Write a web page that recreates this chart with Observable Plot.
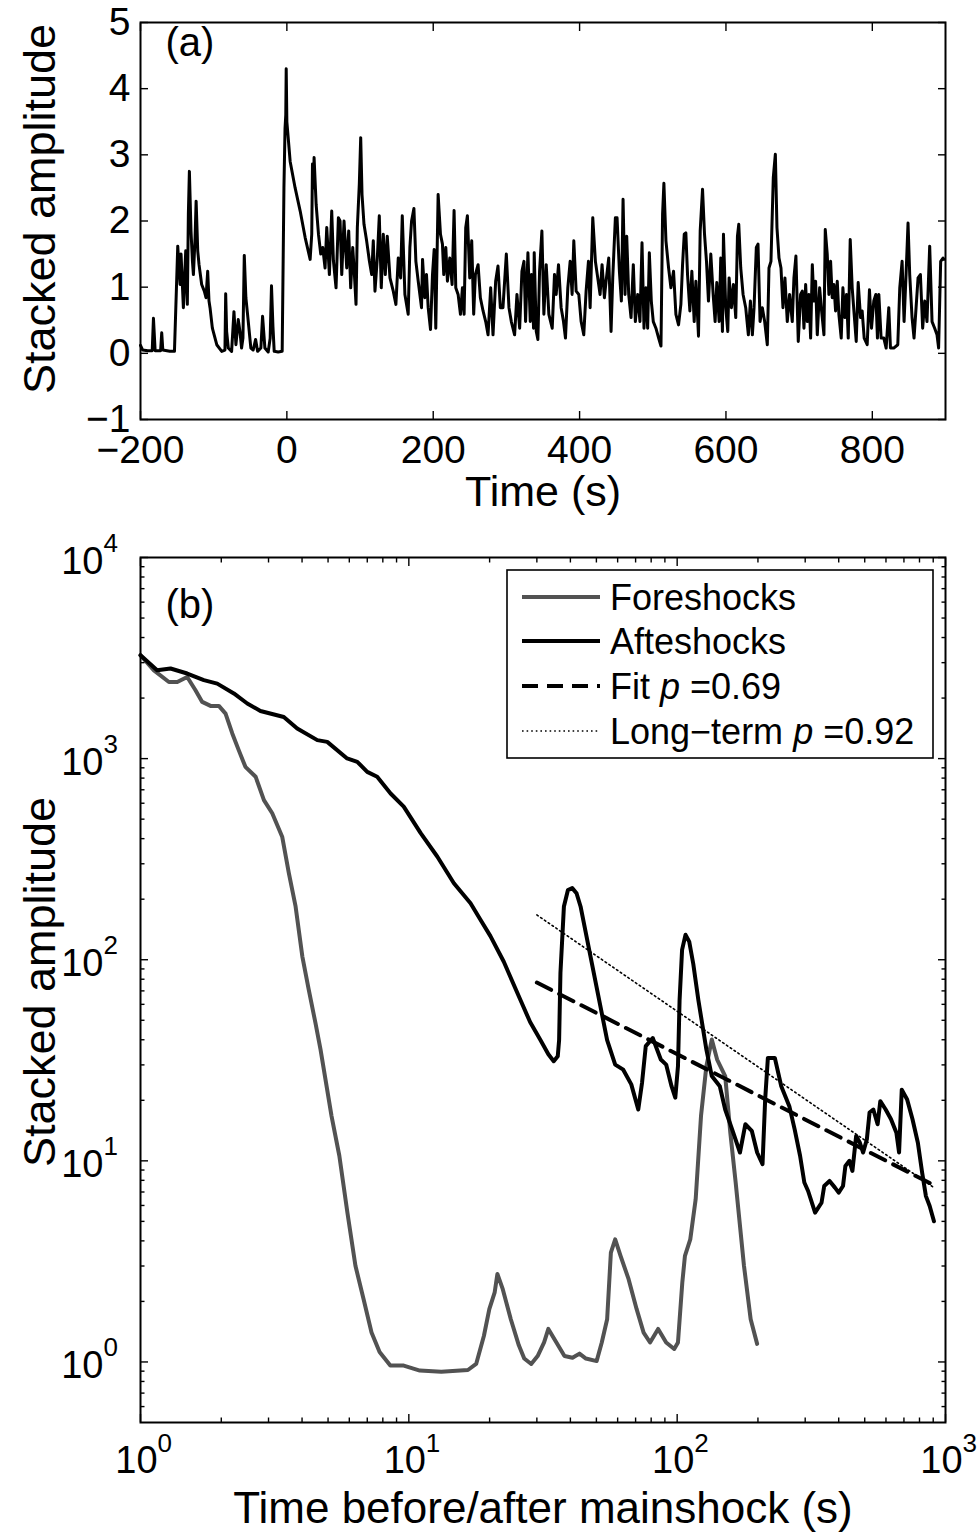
<!DOCTYPE html>
<html><head><meta charset="utf-8">
<script src="https://cdn.jsdelivr.net/npm/d3@7"></script>
<script src="https://cdn.jsdelivr.net/npm/@observablehq/plot@0.6"></script>
<style>
html,body{margin:0;padding:0;background:#fff;}
#wrap{position:relative;width:979px;height:1533px;overflow:hidden;}
#wrap svg{display:block;}
</style></head><body><div id="wrap"></div>
<script>
// ---------- Panel (a): stacked amplitude vs time ----------
const timeA = [-200,-197,-190,-184,-182.3,-180,-172.5,-171,-169.5,-160,-153.6,-149.1,-145.9,-144.6,-141.4,-138.2,-136,-134.6,-133.2,-131,-129,-127.7,-125.4,-124,-121.8,-120,-116.4,-112.8,-110.5,-108.2,-106.4,-105,-101.8,-95.8,-89,-84.6,-83.6,-82.3,-80,-75.5,-72.3,-69.6,-66.4,-64.1,-61.9,-60,-58.2,-56,-53.7,-49.2,-46,-42.7,-40,-35.5,-33.2,-30,-25.5,-22.8,-21,-19,-17.3,-11.8,-6.4,-4,-2.5,-1.5,-0.9,0,1.5,4.5,11.3,18.2,25,31.8,34,35,36.2,37.2,40,43.2,46.3,49,52.2,54.5,58.1,61.3,63.6,67.2,70.4,72.7,75,78.1,81.8,84.5,87.2,90,91.8,94.5,96.3,99,100.9,102.7,105.4,109,112.7,115.9,118.1,120.4,123.6,126.3,129,131.8,134.5,137.2,140.9,145.4,149,152.2,155.4,157.7,161.3,165.8,168.1,170.4,173.6,176.3,179.5,184,185.4,188.5,190.8,193.1,196.3,199,201.3,203.5,206.7,209.9,212.6,214.4,217.2,219.4,222.6,225.8,228.5,230.8,234,237.2,239.9,242.2,244.4,246.7,249.9,252.6,255.3,257.6,261.3,264.4,268.1,271.7,274.9,278.5,281.7,285.3,288.5,291.7,295.3,299.9,303.5,306.7,311.2,314.4,318.1,321.2,324,326.2,329.4,332.6,334.4,337.1,338,340.8,343,345.3,348.5,351.2,354.4,358,362.6,365.7,368,371.2,374.8,378,380.7,383.9,387.1,389.8,392.1,395.3,398.9,402.1,405.7,408.9,412.1,414.4,418,421.6,424.8,428,430.7,433.9,436.2,439.8,443,445.3,448.9,451.2,454.4,457.1,459.4,462.1,464.4,467.1,470.3,473.4,476.2,479.4,482.5,485.3,488,490.7,493,495.3,498,500.7,504.3,508,511.2,513.4,515.2,518,521.6,524.8,528.4,531.6,535.2,538.4,540.7,543,545.2,547.5,550.7,553.4,556.6,558.9,562.5,564.8,568,570.7,573.4,576.1,579.3,582.5,585.2,587.5,590.7,592.9,595.2,596.6,599.7,602.5,604.3,607.5,610.2,613.4,615.7,617.5,620.2,623.4,627,630.6,633.4,636.1,638.4,641.5,643.8,646.6,649.7,652.9,656.5,658.8,661.5,664.7,667.5,669.7,672.5,675.2,677.9,680.6,683.8,687,690.6,692.9,695.6,698.8,702,704.3,706.6,708.9,711.2,713.4,715.7,718,720.2,722.5,724.8,728,730.7,733.9,735.7,738.4,740.7,743,745.2,747.5,749.8,752.1,754.3,757.5,759.8,762.5,764.8,767.1,769.8,772.5,775.2,778,780.7,783.9,786.1,788.9,793,796.1,798.9,802,804.8,807,808.9,812,815.7,818.9,822.5,824.8,829.3,834.8,837.5,840.7,843.4,846.1,848.8,851.1,854.3,857,859.8,862.5,865.7,868.8,871.6,874.7,878.4,881.6,885.2,888.4,890.6,893.4,896.6,898];
const ampA = [0.12,0.05,0.04,0.04,0.53,0.04,0.04,0.31,0.05,0.03,0.03,1.62,1.04,1.50,0.69,1.55,0.74,2.10,2.75,1.85,1.39,1.19,1.75,2.30,1.55,1.34,1.04,0.94,0.84,1.24,0.79,0.69,0.38,0.13,0.03,0.05,0.90,0.33,0.08,0.03,0.63,0.13,0.51,0.33,0.08,0.23,1.48,0.84,0.59,0.08,0.05,0.21,0.03,0.08,0.56,0.08,0.02,0.23,1.02,0.40,0.03,0.02,0.03,2.5,3.4,3.6,4.3,3.5,3.3,2.9,2.5,2.15,1.75,1.42,1.8,2.86,2.5,2.96,2.25,1.8,1.5,1.6,1.29,1.9,1.19,2.15,1.4,0.99,2.05,2.0,1.19,2.0,1.29,1.85,0.99,1.6,1.29,0.74,1.9,2.56,3.26,2.4,1.95,1.7,1.4,1.19,1.7,0.94,1.44,2.08,0.99,1.8,1.19,1.77,1.14,0.94,0.74,1.44,1.14,2.08,0.89,0.59,1.60,2.0,2.19,1.39,1.09,0.69,1.42,0.84,1.19,0.69,0.36,1.19,1.57,0.38,2.40,1.80,1.65,1.19,1.60,1.09,1.44,1.04,2.16,0.99,0.89,0.59,0.99,0.59,1.90,2.08,1.14,1.70,0.59,1.19,1.34,0.84,0.64,0.48,0.28,0.99,0.28,1.09,1.32,0.69,0.69,1.50,0.69,0.48,0.28,0.89,0.38,1.24,1.39,0.48,1.52,0.48,1.19,0.38,1.52,0.33,0.21,1.24,1.85,0.59,1.34,0.59,0.38,1.19,0.89,1.34,0.69,0.48,0.23,0.99,1.39,0.89,1.70,0.94,0.89,0.48,0.28,0.94,1.39,0.69,2.05,1.39,1.14,0.89,1.34,0.84,1.09,1.44,0.33,1.14,2.05,2.05,1.24,0.79,2.33,0.89,1.77,0.89,0.54,1.34,0.48,0.89,0.48,1.67,0.38,0.99,0.38,1.52,0.79,0.48,0.38,0.23,0.11,2.10,2.57,1.70,1.29,0.99,1.24,0.59,0.43,0.74,1.34,1.80,1.82,1.19,0.64,1.24,0.48,1.09,0.26,1.85,2.48,1.80,1.39,0.79,1.50,0.89,0.48,1.07,0.48,1.44,0.33,1.80,0.69,0.33,1.14,0.69,1.04,0.54,1.77,1.95,1.29,0.89,0.69,0.28,0.79,0.28,0.69,1.60,1.65,0.48,0.69,0.48,0.13,1.29,1.39,2.66,3.01,1.90,1.44,1.29,0.69,1.14,0.48,0.89,0.48,1.14,1.47,0.18,0.89,0.94,0.38,1.04,0.48,0.89,0.23,1.34,0.79,1.09,0.28,0.99,0.64,0.28,1.87,1.50,0.89,1.39,0.84,1.04,0.64,1.09,0.59,0.23,0.99,0.54,0.89,0.23,1.72,0.99,0.59,0.18,1.07,0.54,0.64,0.23,0.13,0.96,0.38,0.79,0.89,0.23,0.89,0.23,0.23,0.08,0.69,0.08,0.08,0.13,0.99,1.39,0.48,1.19,1.97,1.19,0.54,0.23,0.69,1.14,1.19,0.38,0.79,0.48,1.62,0.48,0.38,0.28,0.08,1.39,1.44,1.42];
const xTicksA = [-200, 0, 200, 400, 600, 800];
const yTicksA = [-1, 0, 1, 2, 3, 4, 5];

// ---------- Panel (b): log-log decay ----------
const foreT = [1,1.122,1.276,1.371,1.493,1.603,1.698,1.824,1.959,2.075,2.198,2.323,2.46,2.685,2.884,3.097,3.373,3.573,3.784,4.009,4.236,4.487,4.688,5.152,5.508,5.902,6.324,6.776,7.261,7.78,8.531,9.572,10.99,13.21,16.6,17.82,19.05,19.95,20.89,21.38,22.39,23.99,25.7,26.92,28.58,30.2,31.92,33.11,35.48,38.02,40.74,43.25,45.71,50.12,52.36,54.83,56.62,58.75,61.52,65.92,70.63,74.99,79.25,84.92,90.99,97.5,100.7,104.5,106.9,111.9,117.2,122.7,128.5,134.6,140.9,151,157.8,165.2,177.4,187.9,198.6];
const foreV = [3266,2748,2404,2404,2547,2188,1914,1828,1828,1675,1334,1102,910,813,622,535,409,269,184,104,71,48.5,35.7,16.7,10.6,5.53,3.01,2.06,1.4,1.12,0.959,0.959,0.906,0.895,0.912,0.977,1.35,1.83,2.22,2.74,2.3,1.63,1.21,1.04,0.977,1.07,1.25,1.46,1.25,1.07,1.05,1.1,1.04,1.01,1.25,1.63,3.5,4.07,3.37,2.58,1.83,1.4,1.25,1.46,1.25,1.16,1.25,2.48,3.37,4.07,6.44,16.7,29.6,40.1,31.9,26.4,13.8,7.8,3.01,1.63,1.23];
const aftT = [1,1.153,1.294,1.493,1.722,1.932,2.228,2.5,2.799,3.42,3.837,4.56,4.966,5.888,6.427,6.998,7.621,8.551,9.572,11.07,12.76,14.72,16.98,18.49,20.14,22.59,26.06,28.31,30.97,33.11,34.67,35.89,36.31,36.73,37.84,39.17,40.64,42.17,43.65,47.53,51.76,54.83,58.75,62.95,67.45,71.61,73.96,76.38,81.1,86.9,90.99,95.28,98.4,100.7,102.1,104.3,107.4,110.9,114.8,119.9,128.5,134.6,144.2,151,161.8,171.4,179.5,189.7,198.6,208,212.8,217.8,231.2,244.3,261.8,274.2,287.1,297.8,307.6,326.6,345.1,353.2,369.8,387.3,399.9,415,423.6,438.5,449.8,464.5,479.7,493.2,509.3,521.2,538.3,558.5,571.5,598.4,626.6,656.1,671.4,687.1,719.5,753.4,788.9,818.5,845.3,873,905.7];
const aftV = [3266,2748,2805,2649,2455,2360,2109,1879,1726,1611,1413,1236,1211,1002,964,859,813,671,577,426,326,240,191,158,131,97.7,63.1,49,39.8,33.9,31.3,33.1,39.8,86.1,184,222,227,214,184,104,58.6,39.8,30.1,28.4,24,18,24.4,37.2,40.8,31.9,30.1,23.5,20.6,29.6,63.2,112,133,123,95.5,63.2,35.7,26.4,23.5,18,13.8,11,15.2,14.1,11,9.62,20.2,32.5,32.5,23.5,18.7,14.3,10.6,7.8,7.08,5.53,6.19,7.5,7.94,7.36,6.95,7.5,9.44,10,8.91,13.3,12.3,11,12.8,17.4,18,15.2,19.8,18,16.1,13.8,11,22.6,20.2,16.1,12.3,8.73,6.68,5.96,5.01];
const fitT = [30, 900];
const fitV = [77, 7.6];
const longT = [30, 900];
const longV = [167, 7.4];
const decades = [1, 10, 100, 1000];
const decadesY = [1, 10, 100, 1000, 10000];
const legendLabels = ["Foreshocks", "Afteshocks", "Fit", "Long\u2212term"];
const legendP = [null, null, "0.69", "0.92"];

const FONT = '"Liberation Sans", Arial, Helvetica, sans-serif';
const minus = d => (d < 0 ? "\u2212" + Math.abs(d) : String(d));
const minorOf = (lo, hi) => {
  const out = [];
  for (let e = Math.floor(Math.log10(lo)); e < Math.ceil(Math.log10(hi)); e++)
    for (let m = 2; m <= 9; m++) { const v = m * Math.pow(10, e); if (v > lo && v < hi) out.push(+v.toPrecision(3)); }
  return out;
};

const seriesA = timeA.map((t, i) => ({t, v: ampA[i]}));
const tickStyle = {stroke: "black", strokeWidth: 1.4, fill: "none", label: null};

const plotA = Plot.plot({
  width: 979, height: 515,
  marginLeft: 140, marginRight: 34, marginTop: 22, marginBottom: 96,
  style: {fontFamily: FONT, background: "white", color: "black", overflow: "visible"},
  x: {type: "linear", domain: [-200, 900]},
  y: {type: "linear", domain: [-1, 5]},
  marks: [
    Plot.line(seriesA, {x: "t", y: "v", stroke: "black", strokeWidth: 3, strokeLinejoin: "round"}),
    Plot.axisX(xTicksA, {anchor: "bottom", tickSize: -8, ...tickStyle}),
    Plot.axisX(xTicksA, {anchor: "top", tickSize: -8, ...tickStyle}),
    Plot.axisY(yTicksA, {anchor: "left", tickSize: -8, ...tickStyle}),
    Plot.axisY(yTicksA, {anchor: "right", tickSize: -8, ...tickStyle}),
    Plot.axisX(xTicksA, {anchor: "bottom", tickSize: 0, tickPadding: 16, tickFormat: minus, fontSize: 39, label: null}),
    Plot.axisY(yTicksA, {anchor: "left", tickSize: 0, tickPadding: 10, tickFormat: minus, fontSize: 39, label: null}),
    Plot.frame({stroke: "black", strokeWidth: 2}),
    Plot.text(["Time (s)"], {frameAnchor: "bottom", dy: 73, fontSize: 43, lineAnchor: "middle", textAnchor: "middle"}),
    Plot.text(["Stacked amplitude"], {frameAnchor: "left", dx: -100, dy: -12, rotate: -90, fontSize: 45, textAnchor: "middle", lineAnchor: "middle"}),
    Plot.text(["(a)"], {frameAnchor: "top-left", dx: 25, dy: 5, fontSize: 40, lineAnchor: "top", textAnchor: "start"})
  ]
});

const fore = foreT.map((t, i) => ({t, v: foreV[i]}));
const aft = aftT.map((t, i) => ({t, v: aftV[i]}));
const fit = fitT.map((t, i) => ({t, v: fitV[i]}));
const longTerm = longT.map((t, i) => ({t, v: longV[i]}));
const minorX = minorOf(1, 1000);
const minorY = minorOf(0.5, 10000);

const plotB = Plot.plot({
  width: 979, height: 1018,
  marginLeft: 140, marginRight: 34, marginTop: 42, marginBottom: 111,
  style: {fontFamily: FONT, background: "white", color: "black", overflow: "visible"},
  x: {type: "log", domain: [1, 1000]},
  y: {type: "log", domain: [0.5, 10000]},
  marks: [
    Plot.line(fore, {x: "t", y: "v", stroke: "#525252", strokeWidth: 4, strokeLinejoin: "round"}),
    Plot.line(aft, {x: "t", y: "v", stroke: "black", strokeWidth: 4, strokeLinejoin: "round"}),
    Plot.line(fit, {x: "t", y: "v", stroke: "black", strokeWidth: 4, strokeDasharray: "16,9"}),
    Plot.line(longTerm, {x: "t", y: "v", stroke: "black", strokeWidth: 1.6, strokeDasharray: "1.6,3"}),
    Plot.axisX(decades, {anchor: "bottom", tickSize: -8, ...tickStyle}),
    Plot.axisX(decades, {anchor: "top", tickSize: -8, ...tickStyle}),
    Plot.axisX(minorX, {anchor: "bottom", tickSize: -4.5, ...tickStyle}),
    Plot.axisX(minorX, {anchor: "top", tickSize: -4.5, ...tickStyle}),
    Plot.axisY(decadesY, {anchor: "left", tickSize: -8, ...tickStyle}),
    Plot.axisY(decadesY, {anchor: "right", tickSize: -8, ...tickStyle}),
    Plot.axisY(minorY, {anchor: "left", tickSize: -4.5, ...tickStyle}),
    Plot.axisY(minorY, {anchor: "right", tickSize: -4.5, ...tickStyle}),
    Plot.frame({stroke: "black", strokeWidth: 2}),
    // decade labels: "10" with raised exponent
    Plot.text(decades, {x: d => d, frameAnchor: "bottom", text: () => "10", dx: -4, dy: 24, fontSize: 38, lineAnchor: "top", textAnchor: "middle"}),
    Plot.text(decades, {x: d => d, frameAnchor: "bottom", text: d => String(Math.round(Math.log10(d))), dx: 17, dy: 11, fontSize: 26, lineAnchor: "top", textAnchor: "start"}),
    Plot.text(decadesY, {y: d => d, frameAnchor: "left", text: () => "10", dx: -37, dy: 4, fontSize: 38, lineAnchor: "middle", textAnchor: "end"}),
    Plot.text(decadesY, {y: d => d, frameAnchor: "left", text: d => String(Math.round(Math.log10(d))), dx: -37, dy: -14, fontSize: 26, lineAnchor: "middle", textAnchor: "start"}),
    Plot.text(["Time before/after mainshock (s)"], {frameAnchor: "bottom", dy: 86, fontSize: 44, lineAnchor: "middle", textAnchor: "middle"}),
    Plot.text(["Stacked amplitude"], {frameAnchor: "left", dx: -100, dy: -8, rotate: -90, fontSize: 45, textAnchor: "middle", lineAnchor: "middle"}),
    Plot.text(["(b)"], {frameAnchor: "top-left", dx: 25, dy: 32, fontSize: 40, lineAnchor: "top", textAnchor: "start"})
  ]
});

const wrap = document.getElementById("wrap");
wrap.appendChild(plotA);
wrap.appendChild(plotB);

// ---------- Legend (inside panel b, upper right) ----------
const svgB = d3.select(plotB);
const lg = svgB.append("g").attr("font-family", FONT).attr("font-size", 36).attr("text-anchor", "start");
const box = {x: 507, y: 55, w: 426, h: 188};
lg.append("rect").attr("x", box.x).attr("y", box.y).attr("width", box.w).attr("height", box.h)
  .attr("fill", "white").attr("stroke", "black").attr("stroke-width", 1.6);
const legStyles = [
  {stroke: "#525252", width: 4, dash: null},
  {stroke: "black", width: 4, dash: null},
  {stroke: "black", width: 4, dash: "16,9"},
  {stroke: "black", width: 1.6, dash: "1.6,3"}
];
const rowY = [82, 126, 171, 216];
legendLabels.forEach((lab, i) => {
  const s = legStyles[i];
  lg.append("line").attr("x1", 522).attr("x2", 600).attr("y1", rowY[i]).attr("y2", rowY[i])
    .attr("stroke", s.stroke).attr("stroke-width", s.width).attr("stroke-dasharray", s.dash);
  const t = lg.append("text").attr("x", 610).attr("y", rowY[i] + 13).attr("fill", "black").attr("text-anchor", "start");
  t.append("tspan").text(lab);
  if (legendP[i]) {
    t.append("tspan").text(" ");
    t.append("tspan").attr("font-style", "italic").text("p");
    t.append("tspan").text(" =" + legendP[i]);
  }
});
</script>
</body></html>
